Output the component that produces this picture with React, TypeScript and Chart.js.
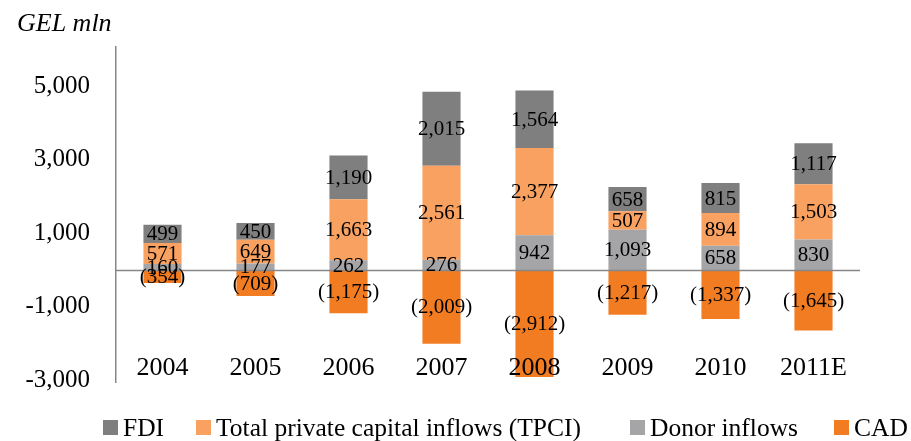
import React, { useEffect, useRef } from "react";
import { Chart, registerables } from "chart.js";

Chart.register(...registerables);

const categories = ["2004", "2005", "2006", "2007", "2008", "2009", "2010", "2011E"];
const donorInflows = [160, 177, 262, 276, 942, 1093, 658, 830];
const tpci = [571, 649, 1663, 2561, 2377, 507, 894, 1503];
const fdi = [499, 450, 1190, 2015, 1564, 658, 815, 1117];
const cad = [-354, -709, -1175, -2009, -2912, -1217, -1337, -1645];
const yTicks = [-3000, -1000, 1000, 3000, 5000];
const unitLabel = "GEL mln";

const FONT = "'Liberation Serif', 'Times New Roman', serif";
const COLORS = {
  fdi: "#7f7f7f",
  tpci: "#f8a160",
  donor: "#a5a5a8",
  cad: "#f27c22",
};

// legend layout: dataset index order and left x of each legend box
const LEGEND_ORDER = [2, 1, 0, 3];
const LEGEND_X = [103, 196, 630, 834];

const fmt = (v: number) =>
  v < 0 ? `(${Math.abs(v).toLocaleString("en-US")})` : v.toLocaleString("en-US");

const overlayPlugin = {
  id: "overlay",
  afterDatasetsDraw(chart: any) {
    const { ctx, chartArea, scales } = chart;
    const ys = scales.y;
    const xs = scales.x;
    ctx.save();
    // zero line
    const y0 = Math.round(ys.getPixelForValue(0)) + 0.5;
    ctx.strokeStyle = "#878787";
    ctx.lineWidth = 1.5;
    ctx.beginPath();
    ctx.moveTo(chartArea.left, y0);
    ctx.lineTo(chartArea.right, y0);
    ctx.stroke();

    // data labels
    ctx.font = `21px ${FONT}`;
    ctx.fillStyle = "#000";
    ctx.textAlign = "center";
    ctx.textBaseline = "middle";
    chart.data.datasets.forEach((ds: any, di: number) => {
      const meta = chart.getDatasetMeta(di);
      meta.data.forEach((bar: any, i: number) => {
        const v = ds.data[i];
        const p = bar.getProps(["x", "y", "base"], true);
        const cy = (p.y + p.base) / 2;
        ctx.fillText(fmt(v), p.x, cy + 1);
      });
    });

    // category labels
    ctx.font = `26px ${FONT}`;
    ctx.textBaseline = "alphabetic";
    chart.data.labels.forEach((lab: string, i: number) => {
      ctx.fillText(lab, xs.getPixelForValue(i), chartArea.bottom - 7);
    });
    ctx.restore();
  },
  afterDraw(chart: any) {
    const { ctx } = chart;
    ctx.save();
    // unit title
    ctx.font = `italic 26px ${FONT}`;
    ctx.fillStyle = "#000";
    ctx.textAlign = "left";
    ctx.textBaseline = "alphabetic";
    ctx.fillText(unitLabel, 17, 31);

    // legend
    ctx.font = `25.5px ${FONT}`;
    const boxTop = 420;
    const box = 15;
    LEGEND_ORDER.forEach((di, k) => {
      const ds = chart.data.datasets[di];
      const x = LEGEND_X[k];
      ctx.fillStyle = ds.backgroundColor;
      ctx.fillRect(x, boxTop, box, box);
      ctx.fillStyle = "#000";
      ctx.fillText(ds.label, x + box + 5, 436);
    });
    ctx.restore();
  },
};

export default function App() {
  const ref = useRef<HTMLCanvasElement>(null);
  useEffect(() => {
    if (!ref.current) return;
    const common = { categoryPercentage: 1, barPercentage: 0.41, stack: "s" };
    const chart = new Chart(ref.current, {
      type: "bar",
      data: {
        labels: categories,
        datasets: [
          { label: "Donor inflows", data: donorInflows, backgroundColor: COLORS.donor, ...common },
          { label: "Total private capital inflows (TPCI)", data: tpci, backgroundColor: COLORS.tpci, ...common },
          { label: "FDI", data: fdi, backgroundColor: COLORS.fdi, ...common },
          { label: "CAD", data: cad, backgroundColor: COLORS.cad, ...common },
        ],
      },
      options: {
        responsive: false,
        animation: false,
        layout: { padding: { top: 47, right: 51, bottom: 59, left: 0 } },
        plugins: {
          legend: { display: false },
          title: { display: false },
          tooltip: { enabled: false },
        },
        scales: {
          x: { display: false, stacked: true },
          y: {
            stacked: true,
            min: -3050,
            max: 6070,
            afterFit(s: any) {
              s.width = 116;
            },
            afterBuildTicks(s: any) {
              s.ticks = yTicks.map((v) => ({ value: v }));
            },
            grid: { display: false, drawTicks: false },
            border: { display: true, color: "#878787", width: 1.5 },
            ticks: {
              padding: 26,
              color: "#000",
              font: { family: FONT, size: 25 },
              callback: (v: any) => Number(v).toLocaleString("en-US"),
            },
          },
        },
      },
      plugins: [overlayPlugin],
    });
    return () => chart.destroy();
  }, []);

  return (
    <div style={{ position: "fixed", left: 0, top: 0, width: 911, height: 441, background: "#fff" }}>
      <canvas ref={ref} width={911} height={441} style={{ width: 911, height: 441, display: "block" }} />
    </div>
  );
}
